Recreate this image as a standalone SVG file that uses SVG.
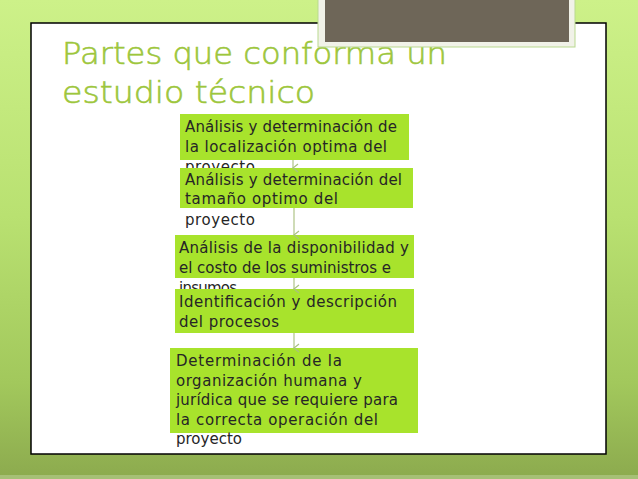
<svg xmlns="http://www.w3.org/2000/svg" width="638" height="479" viewBox="0 0 638 479">
<defs>
<linearGradient id="bg" x1="0" y1="0" x2="0" y2="1">
<stop offset="0" stop-color="#cdf189"/>
<stop offset="0.45" stop-color="#b9e171"/>
<stop offset="0.8" stop-color="#a2c85c"/>
<stop offset="1" stop-color="#8caa4e"/>
</linearGradient>
<marker id="ah" markerUnits="userSpaceOnUse" markerWidth="10" markerHeight="8" refX="5" refY="6" orient="auto-start-reverse" viewBox="0 0 10 8">
<path d="M1,1 L5,6 L9,1" fill="none" stroke="#a9c080" stroke-width="1.2"/>
</marker>
<style>
.box{fill:#a8e32c;}
.t{font-family:"DejaVu Sans","Liberation Sans",sans-serif;font-size:15px;fill:#262626;}
.title{font-family:"DejaVu Sans","Liberation Sans",sans-serif;font-size:30px;fill:#9dc63c;stroke:#9dc63c;stroke-width:0.6;font-weight:200;}
.conn{stroke:#afc487;stroke-width:1.2;fill:none;marker-end:url(#ah);}
</style>
</defs>
<rect x="0" y="0" width="638" height="479" fill="url(#bg)"/>
<rect x="0" y="475" width="638" height="4" fill="#b0c987" opacity="0.7"/>
<rect id="panel" x="31" y="23" width="575" height="431" fill="#ffffff" stroke="#000000" stroke-width="1.5"/>
<g id="title">
<text class="title" x="62" y="64" textLength="385" lengthAdjust="spacingAndGlyphs">Partes que conforma un</text>
<text class="title" x="62" y="103" textLength="253" lengthAdjust="spacingAndGlyphs">estudio técnico</text>
</g>
<g id="photo-frame">
<rect x="318" y="-4" width="257" height="51" fill="#f1f2e8" stroke="#b9d98f" stroke-width="1"/>
<rect x="325" y="-2" width="244" height="44" fill="#6e6658"/>
</g>
<g id="node1">
<rect class="box" x="180" y="114" width="229" height="46"/>
<text class="t" x="185" y="132" textLength="212" lengthAdjust="spacing">Análisis y determinación de</text>
<text class="t" x="185" y="152" textLength="202" lengthAdjust="spacing">la localización optima del</text>
<text class="t" x="185" y="172" textLength="70" lengthAdjust="spacing">proyecto</text>
</g>
<g id="node2">
<rect class="box" x="180" y="168" width="233" height="40"/>
<text class="t" x="185" y="185" textLength="217" lengthAdjust="spacing">Análisis y determinación del</text>
<text class="t" x="185" y="204" textLength="153" lengthAdjust="spacing">tamaño optimo del</text>
<text class="t" x="185" y="225" textLength="70" lengthAdjust="spacing">proyecto</text>
</g>
<g id="node3">
<rect class="box" x="175" y="235" width="239" height="43"/>
<text class="t" x="179" y="253" textLength="230" lengthAdjust="spacing">Análisis de la disponibilidad y</text>
<text class="t" x="179" y="273" textLength="212" lengthAdjust="spacing">el costo de los suministros e</text>
<text class="t" x="179" y="293" textLength="58" lengthAdjust="spacing">insumos</text>
</g>
<g id="node4">
<rect class="box" x="175" y="289" width="239" height="44"/>
<text class="t" x="179" y="307" textLength="218" lengthAdjust="spacing">Identificación y descripción</text>
<text class="t" x="179" y="327" textLength="100" lengthAdjust="spacing">del procesos</text>
</g>
<g id="node5">
<rect class="box" x="170" y="348" width="248" height="85"/>
<text class="t" x="176" y="366" textLength="166" lengthAdjust="spacing">Determinación de la</text>
<text class="t" x="176" y="385.5" textLength="186" lengthAdjust="spacing">organización humana y</text>
<text class="t" x="176" y="405" textLength="222" lengthAdjust="spacing">jurídica que se requiere para</text>
<text class="t" x="176" y="424.5" textLength="202" lengthAdjust="spacing">la correcta operación del</text>
<text class="t" x="176" y="444" textLength="66" lengthAdjust="spacing">proyecto</text>
</g>
<g id="connectors">
<path class="conn" d="M293,160 L293,168"/>
<path class="conn" d="M294,208 L294,235"/>
<path class="conn" d="M294,278 L294,289"/>
<path class="conn" d="M294,333 L294,348"/>
</g>
</svg>
